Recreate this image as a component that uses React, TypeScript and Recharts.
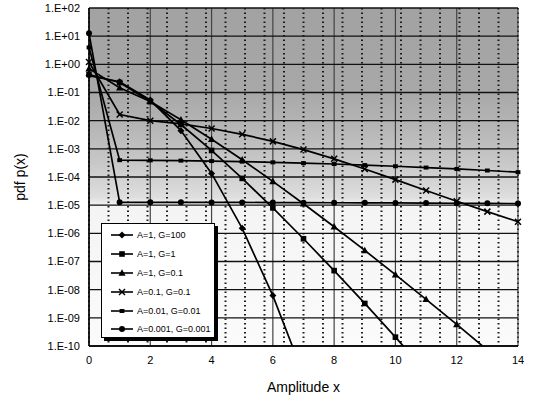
import React from 'react'
import { CartesianGrid, Legend, Line, LineChart, XAxis, YAxis } from 'recharts'

const amplitude = [0, 1, 2, 3, 4, 5, 6, 7, 8, 9, 10, 11, 12, 13, 14]
const xTicks = [0, 2, 4, 6, 8, 10, 12, 14]
const yTicks = [1e-10, 1e-9, 1e-8, 1e-7, 1e-6, 1e-5, 1e-4, 1e-3, 1e-2, 1e-1, 1, 10, 100]
const minorXTicks = [0.636, 1.273, 1.909, 2.545, 3.182, 3.818, 4.455, 5.091, 5.727, 6.364, 7, 7.636, 8.273, 8.909, 9.545, 10.182, 10.818, 11.455, 12.091, 12.727, 13.364]

const seriesNames = ['A=1, G=100', 'A=1, G=1', 'A=1, G=0.1', 'A=0.1, G=0.1', 'A=0.01, G=0.01', 'A=0.001, G=0.001']

// pdf values, one per amplitude step (null = below the axis)
const a1g100 = [0.399, 0.242, 0.054, 0.00443, 1.34e-4, 1.5e-6, 6.16e-9, 9.4e-12, null, null, null, null, null, null, null]
const a1g1 = [0.436, 0.226, 0.048, 0.00729, 8.75e-4, 8.91e-5, 7.97e-6, 6.42e-7, 4.74e-8, 3.24e-9, 2.06e-10, 1.2e-11, null, null, null]
const a1g01 = [0.705, 0.147, 0.048, 0.0108, 0.0022, 4.09e-4, 7.0e-5, 1.12e-5, 1.71e-6, 2.47e-7, 3.41e-8, 4.55e-9, 5.84e-10, 7.2e-11, null]
const a01g01 = [1.21, 0.0166, 0.00998, 0.00764, 0.00527, 0.00328, 0.00184, 9.41e-4, 4.42e-4, 1.93e-4, 8.06e-5, 3.31e-5, 1.37e-5, 5.9e-6, 2.59e-6]
const a001g001 = [3.97, 3.96e-4, 3.9e-4, 3.81e-4, 3.68e-4, 3.51e-4, 3.32e-4, 3.11e-4, 2.89e-4, 2.65e-4, 2.41e-4, 2.16e-4, 1.93e-4, 1.7e-4, 1.48e-4]
const a0001g0001 = [12.6, 1.26e-5, 1.26e-5, 1.26e-5, 1.25e-5, 1.25e-5, 1.24e-5, 1.23e-5, 1.22e-5, 1.21e-5, 1.2e-5, 1.19e-5, 1.17e-5, 1.16e-5, 1.14e-5]

const seriesValues = [a1g100, a1g1, a1g01, a01g01, a001g001, a0001g0001]
const markers = ['diamond', 'square', 'triangle', 'cross', 'dash', 'circle']

const rows = amplitude.map((x, i) => {
  const row: Record<string, number | null> = { x }
  seriesValues.forEach((vals, s) => { row['s' + s] = vals[i] })
  return row
})

const font = '"Liberation Sans", Arial, sans-serif'

const fmtExp = (v: number) => {
  const e = Math.round(Math.log10(v))
  return '1.E' + (e < 0 ? '-' : '+') + String(Math.abs(e)).padStart(2, '0')
}

const Marker = ({ kind, x, y }: { kind: string; x: number; y: number }) => {
  switch (kind) {
    case 'diamond':
      return <polygon points={`${x},${y - 3.5} ${x + 3.5},${y} ${x},${y + 3.5} ${x - 3.5},${y}`} fill="#000" />
    case 'square':
      return <rect x={x - 2.8} y={y - 2.8} width={5.6} height={5.6} fill="#000" />
    case 'triangle':
      return <polygon points={`${x},${y - 3.8} ${x + 3.6},${y + 2.8} ${x - 3.6},${y + 2.8}`} fill="#000" />
    case 'cross':
      return (
        <g stroke="#000" strokeWidth={1.5}>
          <line x1={x - 3} y1={y - 3} x2={x + 3} y2={y + 3} />
          <line x1={x - 3} y1={y + 3} x2={x + 3} y2={y - 3} />
        </g>
      )
    case 'dash':
      return <rect x={x - 2.4} y={y - 2} width={4.8} height={4} fill="#000" />
    default:
      return <circle cx={x} cy={y} r={3} fill="#000" />
  }
}

const LegendBox = () => (
  <div style={{
    width: 112, height: 111, border: '1px solid #000', boxShadow: '3px 3px 0 #000',
    background: '#fff', fontFamily: font, fontSize: 9, color: '#000', paddingTop: 2,
  }}>
    {seriesNames.map((name, i) => (
      <div key={name} style={{ display: 'flex', alignItems: 'center', height: 18.8 }}>
        <svg width={24} height={10} style={{ marginLeft: 9, marginRight: 2 }}>
          <line x1={0} y1={5} x2={22} y2={5} stroke="#000" strokeWidth={1.6} />
          <Marker kind={markers[i]} x={11} y={5} />
        </svg>
        <span>{name}</span>
      </div>
    ))}
  </div>
)

const App = () => {
  return (
    <div style={{ position: 'absolute', left: 0, top: 0 }}>
      <LineChart width={533} height={397} data={rows} margin={{ top: 8, right: 15, bottom: 0, left: 0 }}>
        <defs>
          <linearGradient id="plotShade" x1="0" y1="0" x2="0" y2="1">
            <stop offset="0" stopColor="#a2a2a2" />
            <stop offset="0.25" stopColor="#a8a8a8" />
            <stop offset="0.34" stopColor="#b4b4b4" />
            <stop offset="0.45" stopColor="#c6c6c6" />
            <stop offset="0.56" stopColor="#dedede" />
            <stop offset="0.585" stopColor="#f4f4f4" />
            <stop offset="1" stopColor="#fbfbfb" />
          </linearGradient>
        </defs>
        <CartesianGrid fill="url(#plotShade)" horizontal={false} vertical={false} />
        <CartesianGrid xAxisId="minor" horizontal={false} stroke="#1a1a1a" strokeWidth={2} strokeDasharray="1.5 3" />
        <CartesianGrid horizontal={false} stroke="#444" strokeWidth={1.2} />
        <CartesianGrid vertical={false} stroke="#111" strokeWidth={1.4} />
        <XAxis
          dataKey="x" type="number" domain={[0, 14]} ticks={xTicks} interval={0}
          height={51} tickSize={0} tickMargin={10}
          axisLine={{ stroke: '#000', strokeWidth: 1.5 }}
          tick={{ fill: '#000', fontSize: 11, fontFamily: font }}
          label={{ value: 'Amplitude x', position: 'insideBottom', offset: 5, fill: '#000', fontSize: 14, fontFamily: font }}
        />
        <XAxis xAxisId="minor" dataKey="x" type="number" domain={[0, 14]} ticks={minorXTicks} interval={0} hide />
        <YAxis
          scale="log" domain={[1e-10, 100]} ticks={yTicks} interval={0} allowDataOverflow
          width={89} tickSize={0} tickMargin={9} tickFormatter={fmtExp}
          axisLine={{ stroke: '#000', strokeWidth: 1.5 }}
          tick={{ fill: '#000', fontSize: 11, fontFamily: font }}
          label={{ value: 'pdf p(x)', angle: -90, position: 'insideLeft', offset: 20, fill: '#000', fontSize: 14, fontFamily: font, style: { textAnchor: 'middle' } }}
        />
        {seriesNames.map((name, s) => (
          <Line
            key={name}
            name={name}
            dataKey={'s' + s}
            stroke="#000"
            strokeWidth={1.7}
            connectNulls={false}
            isAnimationActive={false}
            dot={(p: any) => (p.cx == null || p.cy == null)
              ? <g key={name + p.index} />
              : <g key={name + p.index}><Marker kind={markers[s]} x={p.cx} y={p.cy} /></g>}
          />
        ))}
        <Legend
          layout="vertical" align="center" verticalAlign="middle"
          wrapperStyle={{ left: 101, top: 223, width: 116 }}
          content={() => <LegendBox />}
        />
      </LineChart>
    </div>
  )
}

export default App
